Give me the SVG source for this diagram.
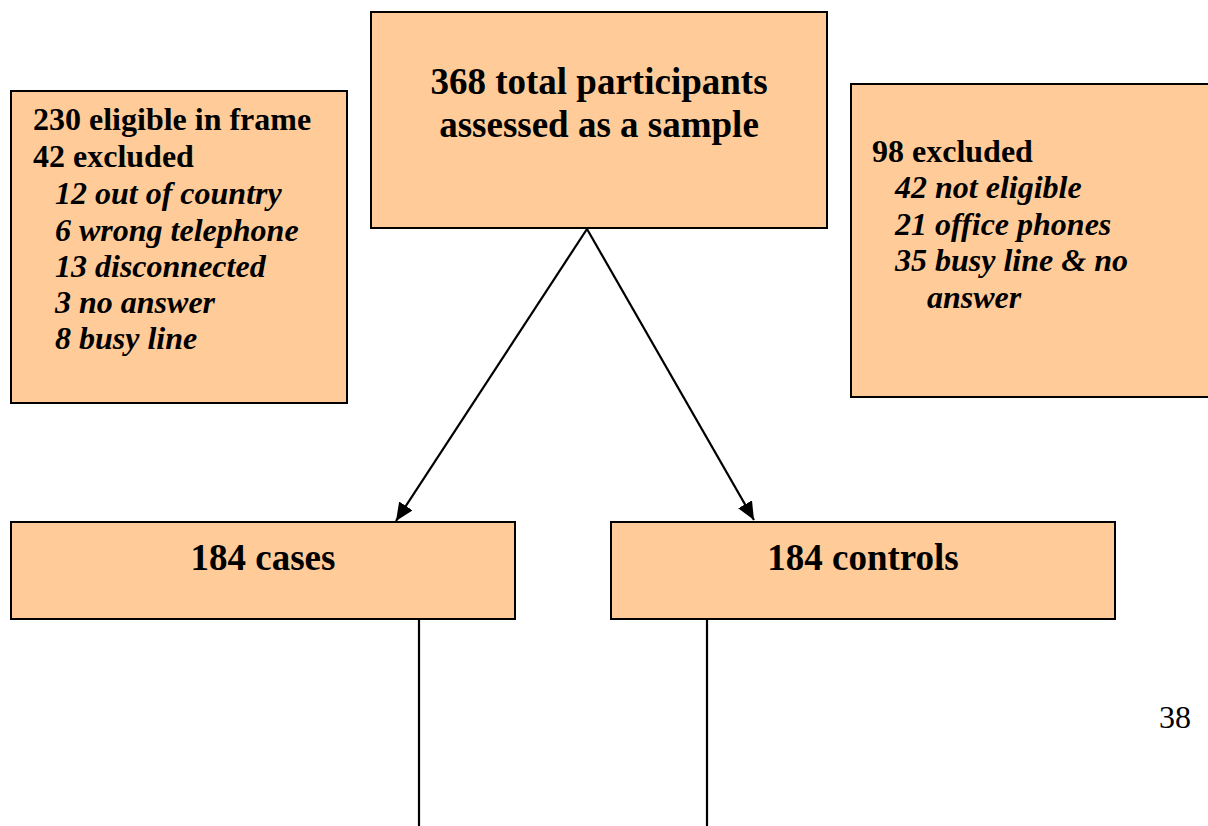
<svg xmlns="http://www.w3.org/2000/svg" width="1208" height="826" viewBox="0 0 1208 826">
  <style>
    .box { fill: #FFCC99; stroke: #000; stroke-width: 2; }
    .t { font-weight: bold; fill: #000; }
    .big { font-size: 37px; }
    .mid { font-size: 32px; }
    .it { font-style: italic; }
    .link { stroke: #000; stroke-width: 2.2; fill: none; }
    .page { font-size: 32px; fill: #000; }
  </style>
  <defs>
    <marker id="head" viewBox="0 0 18 16" refX="18" refY="8" markerWidth="18" markerHeight="16" markerUnits="userSpaceOnUse" orient="auto">
      <path d="M0,0 L18,8 L0,16 z" fill="#000"/>
    </marker>
  </defs>
  <rect width="1208" height="826" fill="#fff"/>

  <!-- connectors -->
  <g id="connectors">
    <line class="link" x1="587" y1="229" x2="396" y2="521" marker-end="url(#head)"/>
    <line class="link" x1="587" y1="229" x2="754" y2="520" marker-end="url(#head)"/>
    <line class="link" x1="419" y1="619" x2="419" y2="826"/>
    <line class="link" x1="707" y1="619" x2="707" y2="826"/>
  </g>

  <g font-family="Liberation Serif, Times New Roman, serif">
    <!-- sampling frame -->
    <g id="frame">
      <rect class="box" x="11" y="91" width="336" height="312"/>
      <text class="t mid" x="33" y="130">230 eligible in frame</text>
      <text class="t mid" x="33" y="167">42 excluded</text>
      <text class="t mid it" x="55" y="204">12 out of country</text>
      <text class="t mid it" x="55" y="241">6 wrong telephone</text>
      <text class="t mid it" x="55" y="277">13 disconnected</text>
      <text class="t mid it" x="55" y="313">3 no answer</text>
      <text class="t mid it" x="55" y="349">8 busy line</text>
    </g>

    <!-- total sample -->
    <g id="total">
      <rect class="box" x="371" y="12" width="456" height="216"/>
      <text class="t big" x="599" y="94" text-anchor="middle">368 total participants</text>
      <text class="t big" x="599" y="137" text-anchor="middle">assessed as a sample</text>
    </g>

    <!-- exclusions -->
    <g id="excluded">
      <rect class="box" x="851" y="84" width="370" height="313"/>
      <text class="t mid" x="872" y="162">98 excluded</text>
      <text class="t mid it" x="895" y="198">42 not eligible</text>
      <text class="t mid it" x="895" y="235">21 office phones</text>
      <text class="t mid it" x="895" y="271">35 busy line &amp; no</text>
      <text class="t mid it" x="927" y="308">answer</text>
    </g>

    <!-- cases -->
    <g id="cases">
      <rect class="box" x="11" y="522" width="504" height="97"/>
      <text class="t big" x="263" y="570" text-anchor="middle">184 cases</text>
    </g>

    <!-- controls -->
    <g id="controls">
      <rect class="box" x="611" y="522" width="504" height="97"/>
      <text class="t big" x="863" y="570" text-anchor="middle">184 controls</text>
    </g>

    <text class="page" x="1159" y="728">38</text>
  </g>
</svg>
